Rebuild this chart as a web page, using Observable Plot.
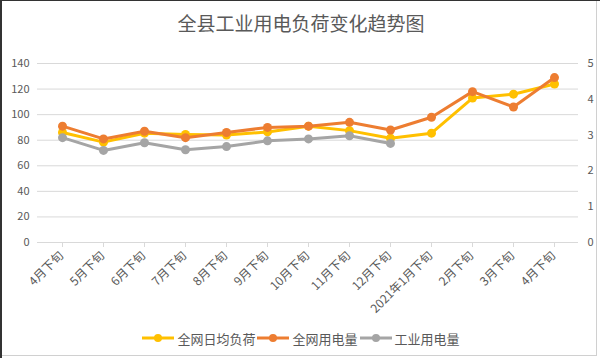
<!DOCTYPE html>
<html>
<head>
<meta charset="utf-8">
<script src="https://cdn.jsdelivr.net/npm/d3@7"></script>
<script src="https://cdn.jsdelivr.net/npm/@observablehq/plot@0.6"></script>
<style>
  body { margin: 0; background: #fff; }
  #frame {
    position: relative; width: 600px; height: 358px; box-sizing: border-box;
    border-top: 1px solid #333; border-left: 2px solid #333;
    font-family: "Noto Sans CJK SC", "Noto Sans", sans-serif; overflow: hidden;
  }
  #inner { position: absolute; left: 0; top: 0; width: 594px; height: 354px; border-right: 1px solid #d0d0d0; border-bottom: 1px solid #d0d0d0; }
  #title { position: absolute; left: 0; top: 0; width: 598px; height: 45px; line-height: 44px; text-align: center; font-size: 19px; color: #595959; }
  #chart { position: absolute; left: -2px; top: 44px; }
  #legend { position: absolute; left: 0; top: 327px; width: 598px; height: 20px; display: flex; justify-content: center; align-items: center; font-size: 13px; color: #595959; }
  .item { display: flex; align-items: center; margin: 0 1px; }
  .item svg { margin-right: 3px; }
</style>
</head>
<body>
<div id="frame">
  <div id="inner"></div>
  <div id="title">全县工业用电负荷变化趋势图</div>
  <div id="chart"></div>
  <div id="legend"></div>
</div>
<script>
const categories = ["4月下旬","5月下旬","6月下旬","7月下旬","8月下旬","9月下旬","10月下旬","11月下旬","12月下旬","2021年1月下旬","2月下旬","3月下旬","4月下旬"];
const seriesNames = ["全网日均负荷","全网用电量","工业用电量"];
const seriesColors = ["#FFC000","#ED7D31","#A5A5A5"];
const avgLoad = [86, 78.5, 85.5, 84.5, 84, 86.5, 91, 87.5, 81.5, 85.5, 113, 116, 124];
const totalUse = [91, 81, 87, 82, 86, 90, 91, 94, 88, 98, 118, 106, 129];
const industryUse = [82, 72, 78, 72.5, 75, 79.5, 81, 83.5, 77.5, null, null, null, null];
const leftTicks = [0, 20, 40, 60, 80, 100, 120, 140];
const rightTicks = [0, 1, 2, 3, 4, 5];
const rightMax = 5, leftMax = 140;

const seriesValues = [avgLoad, totalUse, industryUse];
const idx = categories.map((_, i) => i);

const marks = [
  Plot.ruleY(leftTicks.slice(1), {stroke: "#d9d9d9", strokeWidth: 1}),
  Plot.ruleY([0], {stroke: "#d9d9d9", strokeWidth: 1}),
  Plot.axisY({ticks: leftTicks, tickSize: 0, tickPadding: 8, fontSize: 11, color: "#595959", label: null}),
  Plot.axisY({anchor: "right", ticks: rightTicks.map(t => t * leftMax / rightMax), tickFormat: d => Math.round(d * rightMax / leftMax), tickSize: 0, tickPadding: 9, fontSize: 11, color: "#595959", label: null}),
  Plot.axisX({ticks: idx, tickSize: 5, tickFormat: null, stroke: "#d9d9d9", label: null}),
  Plot.axisX({ticks: idx, tickFormat: i => categories[i], tickRotate: -45, tickSize: 0, tickPadding: 11, dx: -1, fontSize: 12, color: "#595959", label: null})
];
seriesValues.forEach((vals, s) => {
  const data = idx.map(i => ({i, v: vals[i]}));
  marks.push(Plot.lineY(data, {x: "i", y: "v", stroke: seriesColors[s], strokeWidth: 3, curve: "linear"}));
  marks.push(Plot.dot(data.filter(d => d.v != null), {x: "i", y: "v", fill: seriesColors[s], r: 4.5, stroke: "none"}));
});

const chart = Plot.plot({
  width: 600, height: 282,
  marginTop: 18, marginBottom: 85, marginLeft: 37, marginRight: 22,
  style: {fontFamily: "'Noto Sans CJK SC', 'Noto Sans', sans-serif", color: "#595959", background: "transparent"},
  x: {type: "point", domain: idx, padding: 0.5, axis: null},
  y: {domain: [0, leftMax], axis: null},
  marks
});
document.getElementById("chart").appendChild(chart);

const legend = document.getElementById("legend");
seriesNames.forEach((name, s) => {
  const item = document.createElement("div");
  item.className = "item";
  item.innerHTML = `<svg width="32" height="10"><line x1="0" y1="5" x2="32" y2="5" stroke="${seriesColors[s]}" stroke-width="3"/><circle cx="16" cy="5" r="4" fill="${seriesColors[s]}"/></svg><span>${name}</span>`;
  legend.appendChild(item);
});
</script>
</body>
</html>
